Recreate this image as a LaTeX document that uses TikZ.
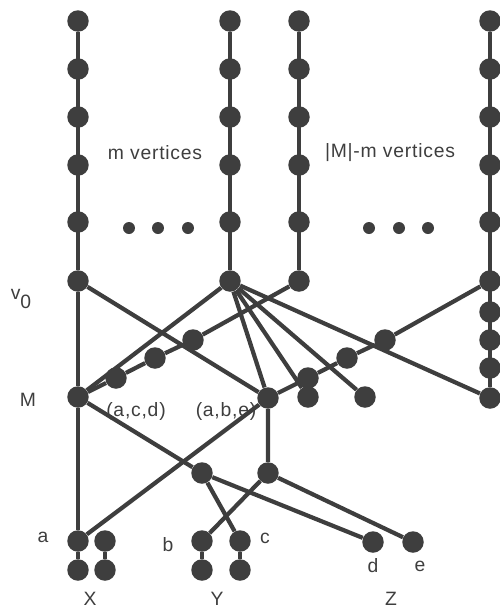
\documentclass[tikz,border=0pt]{standalone}
\usepackage{fontspec}
\setmainfont{Liberation Sans}[LetterSpace=4]
\definecolor{ink}{RGB}{62,62,62}

\begin{document}
\begin{tikzpicture}[x=0.02cm, y=-0.02cm,
    every node/.style={font=\fontsize{11}{13}\selectfont, text=ink},
    vtx/.style={circle, fill=ink, inner sep=0pt, minimum size=0.43cm},
    dot/.style={circle, fill=ink, inner sep=0pt, minimum size=0.24cm},
    edge/.style={draw=ink, line width=2.4pt}
  ]
  \useasboundingbox (0,0) rectangle (500,609);

  % the four long columns
  \foreach \c/\x in {1/78, 2/230, 3/299, 4/490}
    \foreach \r/\y in {1/21, 2/69, 3/117, 4/165, 5/222, 6/281}
      \node[vtx] (c\c-\r) at (\x,\y) {};
  \node[vtx] (c4-7) at (490,312) {};
  \node[vtx] (c4-8) at (490,340) {};
  \node[vtx] (c4-9) at (490,368) {};
  \node[vtx] (c4-10) at (490,398) {};

  \node[dot] (d1) at (129,228) {};
  \node[dot] (d2) at (158,228) {};
  \node[dot] (d3) at (188,228) {};
  \node[dot] (d4) at (369,228) {};
  \node[dot] (d5) at (399,228) {};
  \node[dot] (d6) at (428,228) {};

  % triple vertices and the paths to the columns
  \node[vtx] (acd) at (78,397) {};
  \node[vtx] (abe) at (268,398) {};
  \node[vtx] (p1) at (116,378) {};
  \node[vtx] (p2) at (155,358) {};
  \node[vtx] (p3) at (193,340) {};
  \node[vtx] (q1) at (308,378) {};
  \node[vtx] (q2) at (347,358) {};
  \node[vtx] (q3) at (385,340) {};
  \node[vtx] (r1) at (308,397) {};
  \node[vtx] (r2) at (365,397) {};
  \node[vtx] (s1) at (202,473) {};
  \node[vtx] (s2) at (268,473) {};

  % elements X, Y, Z
  \node[vtx] (a) at (78,541) {};
  \node[vtx] (a2) at (78,570) {};
  \node[vtx] (x1) at (105,541) {};
  \node[vtx] (x2) at (105,570) {};
  \node[vtx] (b) at (202,541) {};
  \node[vtx] (b2) at (202,570) {};
  \node[vtx] (c) at (240,541) {};
  \node[vtx] (c2) at (240,570) {};
  \node[vtx] (d) at (373,542) {};
  \node[vtx] (e) at (413,542) {};

  \draw[edge] (c1-1) -- (c1-6) -- (acd) -- (a) -- (a2);
  \draw[edge] (c2-1) -- (c2-6);
  \draw[edge] (c3-1) -- (c3-6);
  \draw[edge] (c4-1) -- (c4-10);
  \draw[edge] (x1) -- (x2);
  \draw[edge] (b) -- (b2);
  \draw[edge] (c) -- (c2);

  \draw[edge] (c1-6) -- (abe);
  \draw[edge] (c2-6) -- (acd);
  \draw[edge] (acd) -- (p1) -- (p2) -- (p3) -- (c3-6);
  \draw[edge] (abe) -- (q1) -- (q2) -- (q3) -- (c4-6);
  \draw[edge] (c2-6) -- (abe);
  \draw[edge] (c2-6) -- (r1);
  \draw[edge] (c2-6) -- (r2);
  \draw[edge] (c2-6) -- (c4-10);

  \draw[edge] (acd) -- (s1) -- (d);
  \draw[edge] (s1) -- (c);
  \draw[edge] (abe) -- (s2) -- (b);
  \draw[edge] (s2) -- (e);
  \draw[edge] (a) -- (abe);

  % labels
  \node (mlbl) at (155,153) {m vertices};
  \node (rlbl) at (390,153) {|M|-m vertices};
  \node (v0lbl) at (21,299) {v\raisebox{-0.8ex}{0}};
  \node (Mlbl) at (28,400) {M};
  \node (acdlbl) at (136,411) {(a,c,d)};
  \node (abelbl) at (226,411) {(a,b,e)};
  \node (albl) at (43,537) {a};
  \node (blbl) at (168,545) {b};
  \node (clbl) at (265,538) {c};
  \node (dlbl) at (373,566) {d};
  \node (elbl) at (420,566) {e};
  \node (Xlbl) at (90,599) {X};
  \node (Ylbl) at (217,599) {Y};
  \node (Zlbl) at (391,599) {Z};
\end{tikzpicture}
\end{document}
